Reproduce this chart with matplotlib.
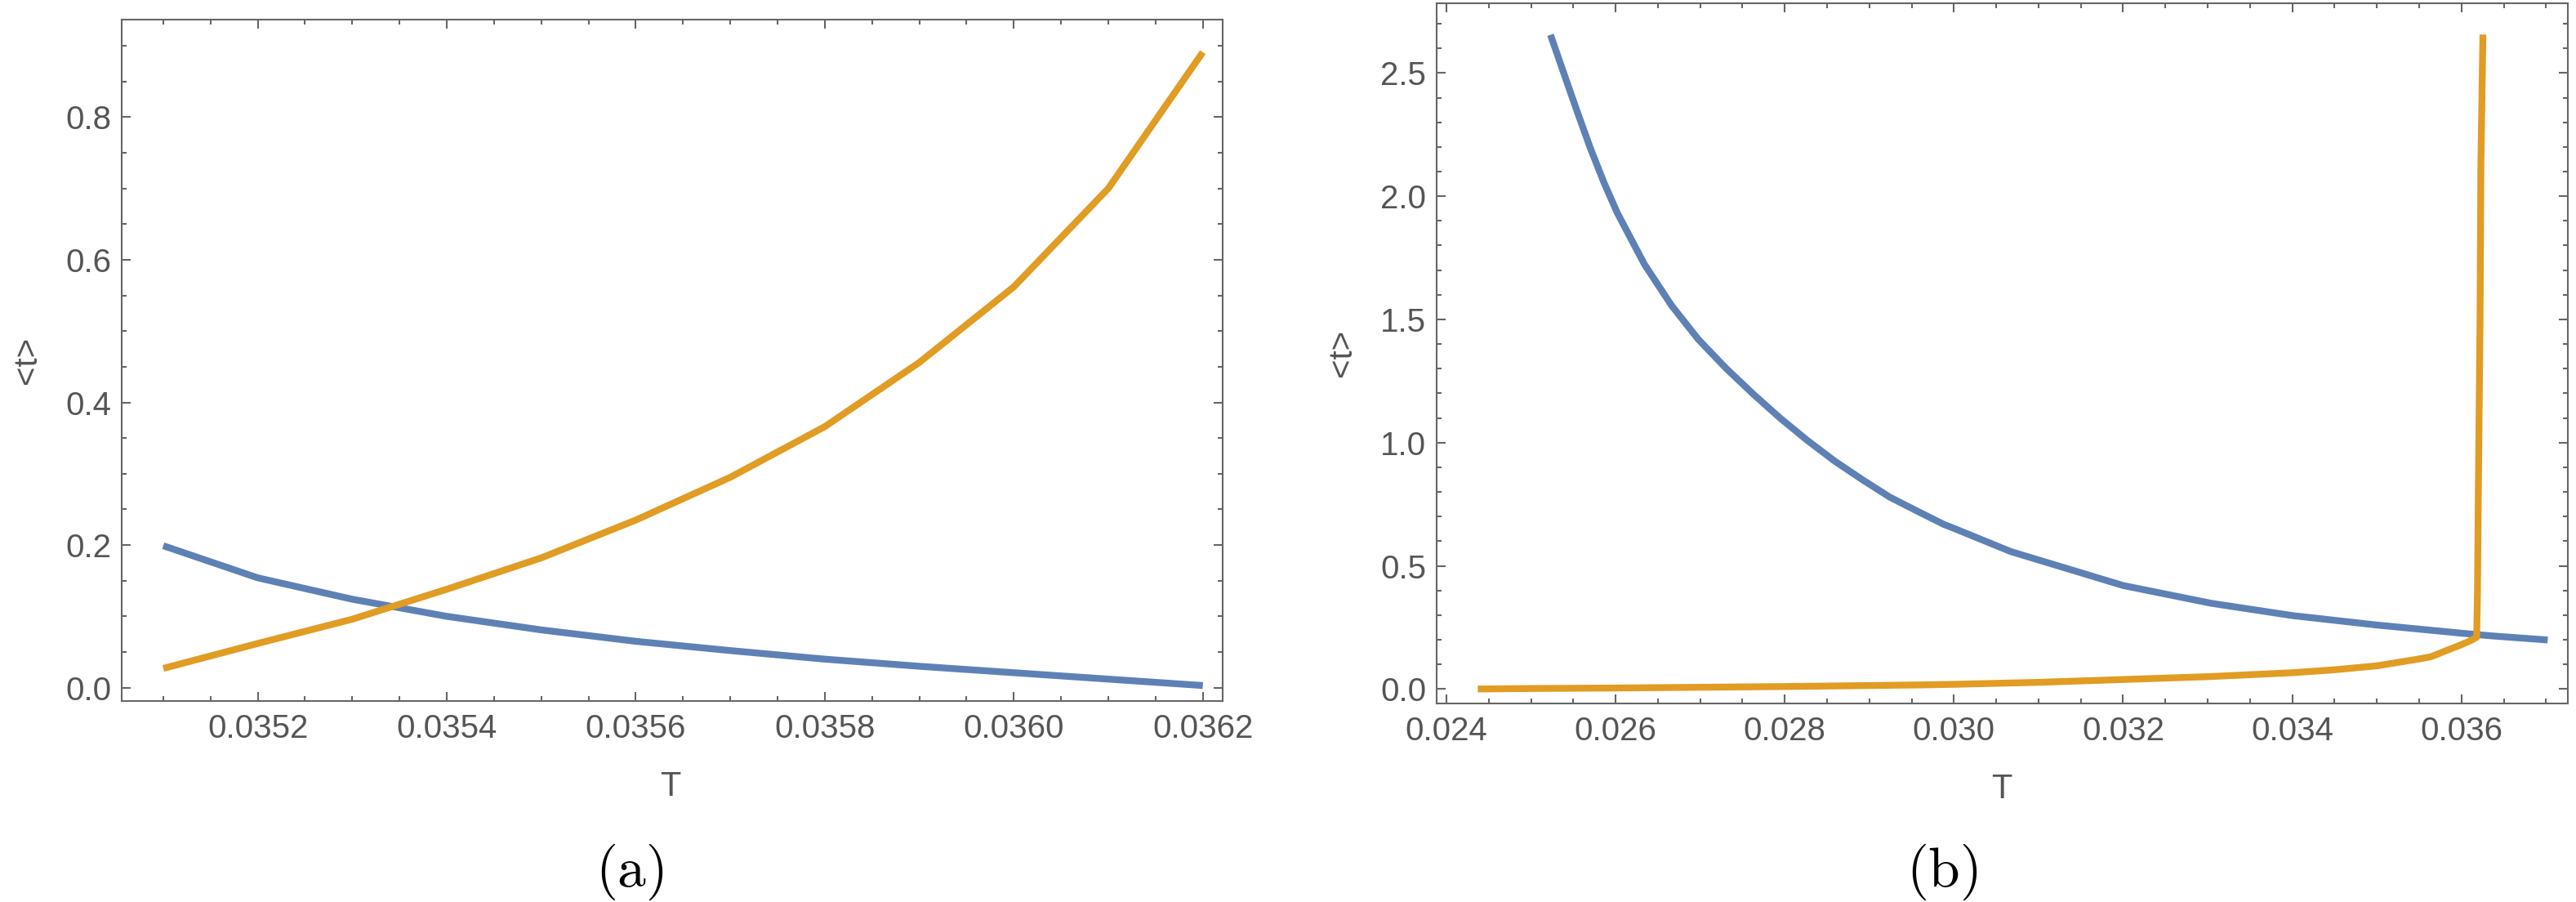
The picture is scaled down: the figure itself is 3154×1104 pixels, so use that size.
import matplotlib
matplotlib.use("Agg")
import matplotlib.pyplot as plt
from matplotlib.ticker import MultipleLocator, FormatStrFormatter

# ---- data: panel (a) ----
T_a = [0.0351, 0.0352, 0.0353, 0.0354, 0.0355, 0.0356, 0.0357, 0.0358, 0.0359, 0.0360, 0.0361, 0.0362]
blue_a = [0.199, 0.154, 0.124, 0.100, 0.081, 0.065, 0.052, 0.040, 0.030, 0.021, 0.012, 0.003]
orange_a = [0.027, 0.062, 0.096, 0.138, 0.182, 0.235, 0.295, 0.366, 0.456, 0.562, 0.700, 0.891]

# ---- data: panel (b) ----
T_b_blue = [0.02523, 0.02537, 0.02554, 0.02570, 0.02586, 0.02602, 0.02634, 0.02666, 0.02698,
            0.02731, 0.02763, 0.02795, 0.02827, 0.02859, 0.02892, 0.02924, 0.02956, 0.02988,
            0.03000, 0.03067, 0.03200, 0.03304, 0.03400, 0.03499, 0.03600, 0.03636, 0.03702]
blue_b = [2.655, 2.516, 2.349, 2.196, 2.057, 1.932, 1.724, 1.557, 1.418,
          1.300, 1.196, 1.098, 1.008, 0.925, 0.849, 0.779, 0.723, 0.668,
          0.652, 0.558, 0.420, 0.348, 0.298, 0.260, 0.2265, 0.2155, 0.199]
T_b_orange = [0.02437, 0.0250, 0.0260, 0.0270, 0.0280, 0.0290, 0.02959, 0.0300, 0.0310,
              0.0320, 0.0330, 0.0340, 0.0345, 0.0350, 0.0355, 0.03564, 0.0358, 0.0360,
              0.0361, 0.03618, 0.03619, 0.03620, 0.03622, 0.03623, 0.036254]
orange_b = [0.0, 0.002, 0.004, 0.007, 0.010, 0.014, 0.0165, 0.019, 0.027,
            0.0385, 0.050, 0.066, 0.078, 0.094, 0.122, 0.131, 0.153, 0.180,
            0.195, 0.210, 0.40, 0.80, 1.50, 2.13, 2.656]

xticks_a = [0.0352, 0.0354, 0.0356, 0.0358, 0.0360, 0.0362]
yticks_a = [0.0, 0.2, 0.4, 0.6, 0.8]
xticks_b = [0.024, 0.026, 0.028, 0.030, 0.032, 0.034, 0.036]
yticks_b = [0.0, 0.5, 1.0, 1.5, 2.0, 2.5]

BLUE = "#5E81B5"
ORANGE = "#E19C24"
FRAME = "#666666"
TEXT = "#555555"

plt.rcParams['font.family'] = ['Liberation Sans', 'DejaVu Sans']
plt.rcParams['mathtext.fontset'] = 'cm'

W, H = 3154, 1104
fig = plt.figure(figsize=(W / 100, H / 100), dpi=100)


def make_axes(left, right, top, bottom):
    return fig.add_axes([left / W, 1 - bottom / H, (right - left) / W, (bottom - top) / H])


def style(ax, xmaj, xmin, ymaj, ymin, xfmt, yfmt):
    for s in ax.spines.values():
        s.set_color(FRAME)
        s.set_linewidth(1.5)
    ax.xaxis.set_major_locator(MultipleLocator(xmaj))
    ax.xaxis.set_minor_locator(MultipleLocator(xmin))
    ax.yaxis.set_major_locator(MultipleLocator(ymaj))
    ax.yaxis.set_minor_locator(MultipleLocator(ymin))
    ax.xaxis.set_major_formatter(FormatStrFormatter(xfmt))
    ax.yaxis.set_major_formatter(FormatStrFormatter(yfmt))
    ax.tick_params(which='both', direction='in', top=True, right=True,
                   color=FRAME, width=1.5, labelcolor=TEXT, labelsize=29)
    ax.tick_params(which='major', length=8)
    ax.tick_params(which='minor', length=4.5)
    ax.tick_params(axis='x', which='major', pad=11)
    ax.tick_params(axis='y', which='major', pad=9)


LW = 6.0

# ---- panel (a) ----
ax1 = make_axes(149, 1497, 24, 858)
ax1.plot(T_a, blue_a, color=BLUE, lw=LW, solid_capstyle='butt', solid_joinstyle='round')
ax1.plot(T_a, orange_a, color=ORANGE, lw=LW, solid_capstyle='butt', solid_joinstyle='round')
ax1.set_xlim(0.035056, 0.036221)
ax1.set_ylim(-0.0187, 0.9367)
style(ax1, 0.0002, 0.00005, 0.2, 0.05, '%.4f', '%.1f')
ax1.set_xticks(xticks_a)
ax1.set_yticks(yticks_a)
ax1.set_xlabel('T', fontsize=30, color=TEXT)
ax1.set_ylabel('<t>', fontsize=29, color=TEXT)
ax1.xaxis.set_label_coords(0.4985, -0.1259)
ax1.xaxis.label.set_verticalalignment('center')
ax1.yaxis.set_label_coords(-0.0861, 0.5)
ax1.yaxis.label.set_verticalalignment('center')

# ---- panel (b) ----
ax2 = make_axes(1758.7, 3144, 4, 860.7)
ax2.plot(T_b_blue, blue_b, color=BLUE, lw=LW, solid_capstyle='butt', solid_joinstyle='round')
ax2.plot(T_b_orange, orange_b, color=ORANGE, lw=LW, solid_capstyle='butt', solid_joinstyle='round')
ax2.set_xlim(0.023881, 0.037258)
ax2.set_ylim(-0.0577, 2.783)
style(ax2, 0.002, 0.0005, 0.5, 0.1, '%.3f', '%.1f')
ax2.set_xticks(xticks_b)
ax2.set_yticks(yticks_b)
ax2.set_xlabel('T', fontsize=30, color=TEXT)
ax2.set_ylabel('<t>', fontsize=29, color=TEXT)
ax2.xaxis.set_label_coords(0.4997, -0.1229)
ax2.xaxis.label.set_verticalalignment('center')
ax2.yaxis.set_label_coords(-0.0835, 0.5)
ax2.yaxis.label.set_verticalalignment('center')

# ---- panel captions ----
fig.text(771 / W, 1 - 1085 / H, r'$\mathrm{(a)}$', fontsize=50, ha='center', va='baseline', color='black')
fig.text(2378 / W, 1 - 1085 / H, r'$\mathrm{(b)}$', fontsize=50, ha='center', va='baseline', color='black')

fig.savefig('out.png', dpi=100, facecolor='white')
